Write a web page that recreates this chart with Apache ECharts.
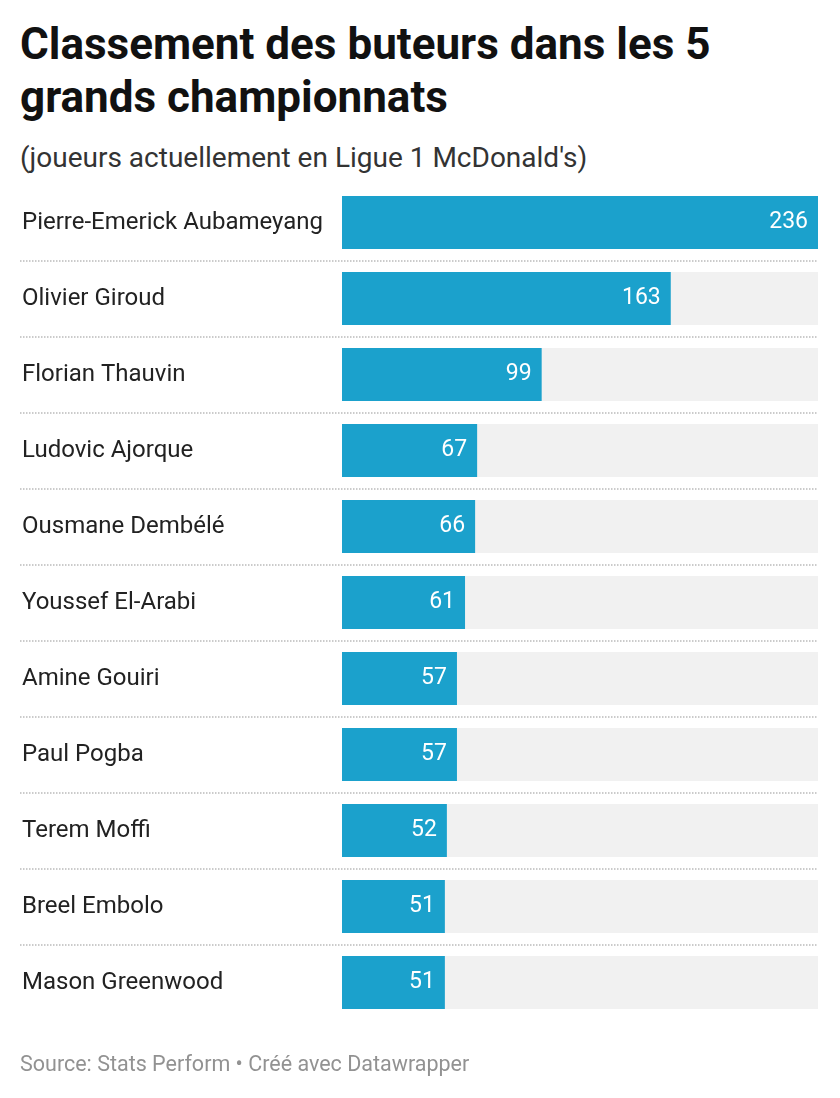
<!DOCTYPE html>
<html lang="fr">
<head>
<meta charset="utf-8">
<title>Classement des buteurs</title>
<style>
  body { margin: 0; overflow: hidden; background: #fff; font-family: Roboto, sans-serif; }
  h1 { position: absolute; left: 20px; top: 18px; margin: 0; width: 760px; font-size: 44px; line-height: 53px; font-weight: 700; color: #111; }
  .sub { position: absolute; left: 20px; top: 141px; font-size: 28px; color: #333; }
  .src { position: absolute; left: 20px; top: 1051px; font-size: 21.5px; color: #929292; }
</style>
</head>
<body>
<h1>Classement des buteurs dans les 5 grands championnats</h1>
<div class="sub">(joueurs actuellement en Ligue 1 McDonald's)</div>
<div id="chart" style="position:absolute; left:0; top:0; width:840px; height:1300px;"></div>
<div class="src">Source: Stats Perform • Créé avec Datawrapper</div>
<script src="https://cdn.jsdelivr.net/npm/echarts@6/dist/echarts.min.js"></script>
<script>
var players = ['Pierre-Emerick Aubameyang', 'Olivier Giroud', 'Florian Thauvin', 'Ludovic Ajorque',
  'Ousmane Dembélé', 'Youssef El-Arabi', 'Amine Gouiri', 'Paul Pogba', 'Terem Moffi',
  'Breel Embolo', 'Mason Greenwood'];
var goals = [236, 163, 99, 67, 66, 61, 57, 57, 52, 51, 51];
var maxGoals = 236;

var chart = echarts.init(document.getElementById('chart'));
// 0 doit tomber à x=342 : la zone des noms est à gauche du zéro
var axisMin = -maxGoals * 322 / 476;
// lignes vides en bas, pour que le trait du bord tombe hors de la page
var rows = players.concat(['', '']);

chart.setOption({
  animation: false,
  grid: { left: 20, right: 22, top: 184.5, height: 76 * rows.length },
  xAxis: { type: 'value', min: axisMin, max: maxGoals, show: false },
  yAxis: {
    type: 'category', data: rows, inverse: true,
    axisLine: { show: false, onZero: false }, axisTick: { show: false },
    axisLabel: { inside: true, align: 'left', margin: 2, fontSize: 24, color: '#222', fontFamily: 'Roboto' },
    splitLine: { show: true, interval: function (i) { return i > 0 && i < players.length; }, lineStyle: { type: 'dotted', color: '#bbb', width: 1.5 } }
  },
  series: [
    {
      type: 'bar', data: players.map(function () { return maxGoals; }),
      barWidth: 53, itemStyle: { color: '#f1f1f1' }, silent: true
    },
    {
      type: 'bar', data: goals, barWidth: 53, barGap: '-100%',
      itemStyle: { color: '#1ba1cc' },
      label: { show: true, position: 'insideRight', distance: 10, color: '#fff', fontSize: 23, fontFamily: 'Roboto' }
    }
  ]
});
</script>
</body>
</html>
